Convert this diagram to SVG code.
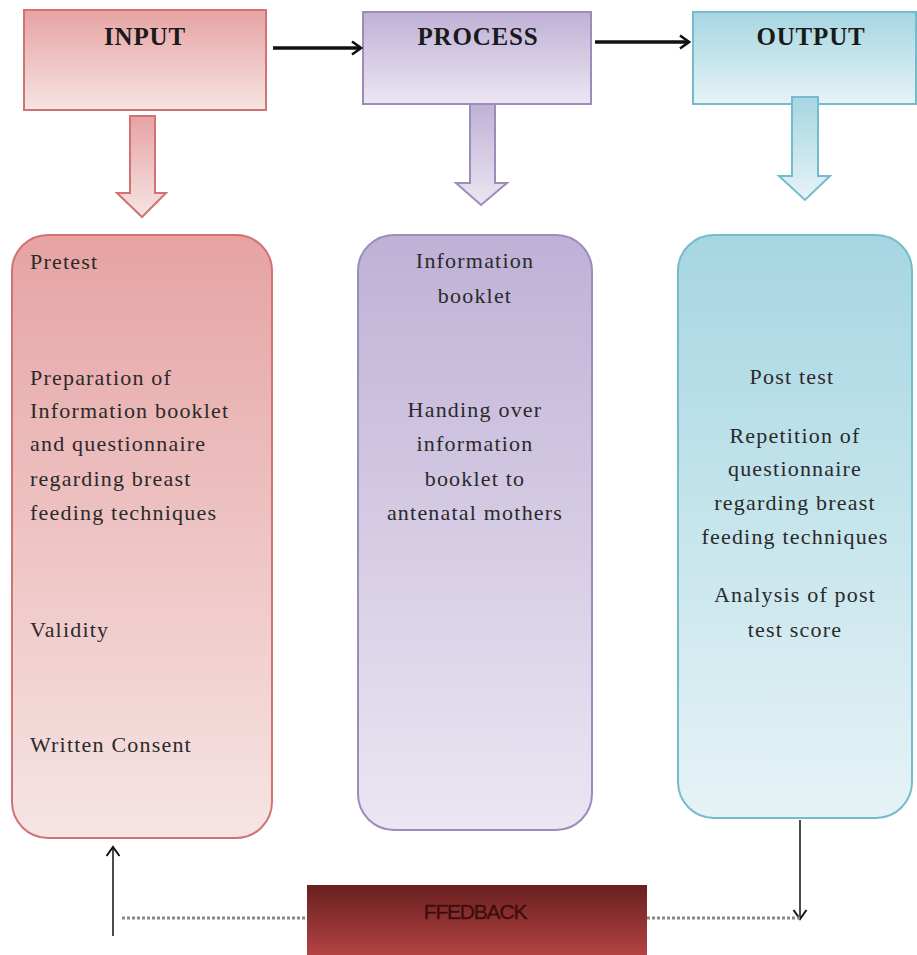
<svg xmlns="http://www.w3.org/2000/svg" width="917" height="955" viewBox="0 0 917 955">
<defs>
<linearGradient id="gRed" x1="0" y1="0" x2="0" y2="1"><stop offset="0" stop-color="#e6a3a3"/><stop offset="1" stop-color="#f6e4e4"/></linearGradient>
<linearGradient id="gPur" x1="0" y1="0" x2="0" y2="1"><stop offset="0" stop-color="#bfb1d6"/><stop offset="1" stop-color="#ebe6f2"/></linearGradient>
<linearGradient id="gBlu" x1="0" y1="0" x2="0" y2="1"><stop offset="0" stop-color="#a6d6e2"/><stop offset="1" stop-color="#e6f3f6"/></linearGradient>
<linearGradient id="gFb" x1="0" y1="0" x2="0" y2="1"><stop offset="0" stop-color="#6a2020"/><stop offset="1" stop-color="#b54444"/></linearGradient>
<marker id="chev" viewBox="0 0 12 16" refX="10" refY="8" markerWidth="12" markerHeight="16" markerUnits="userSpaceOnUse" orient="auto"><path d="M1,1.5 L10,8 L1,14.5" fill="none" stroke="#111" stroke-width="2.6"/></marker>
<marker id="chevS" viewBox="0 0 12 16" refX="10" refY="8" markerWidth="12" markerHeight="16" markerUnits="userSpaceOnUse" orient="auto"><path d="M1,1.5 L10,8 L1,14.5" fill="none" stroke="#111" stroke-width="2"/></marker>
</defs>
<style>
.hdr{font-family:"Liberation Serif",serif;font-weight:bold;font-size:25px;letter-spacing:0.8px;fill:#1a1a1a;text-anchor:middle}
.t{font-family:"Liberation Serif",serif;font-size:22px;letter-spacing:1.2px;fill:#2a2a2a}
.c{text-anchor:middle}
.red{fill:url(#gRed);stroke:#d27272;stroke-width:2}
.pur{fill:url(#gPur);stroke:#9c8cba;stroke-width:2}
.blu{fill:url(#gBlu);stroke:#74bccb;stroke-width:2}
.ln{stroke:#111;fill:none}
.dash{stroke:#888;stroke-width:3;stroke-dasharray:3,2;fill:none}
</style>
<g id="input">
<rect class="red" x="24" y="10" width="242" height="100"/>
<text class="hdr" x="145" y="45">INPUT</text>
</g>
<g id="process">
<rect class="pur" x="363" y="12" width="228" height="92"/>
<text class="hdr" x="478" y="45">PROCESS</text>
</g>
<g id="output">
<rect class="blu" x="693" y="12" width="223" height="92"/>
<text class="hdr" x="811" y="45">OUTPUT</text>
</g>
<g id="input-arrow"><path class="red" d="M130,116 H155 V193 H166 L142,217 L117,193 H130 Z"/></g>
<g id="process-arrow"><path class="pur" d="M470,104 H495 V183 H507 L481,205 L456,183 H470 Z"/></g>
<g id="output-arrow"><path class="blu" d="M792,97 H818 V176 H830 L805,200 L779,176 H792 Z"/></g>
<g id="input-details">
<rect class="red" x="12" y="235" width="260" height="603" rx="36"/>
<text class="t" x="30" y="269">Pretest</text>
<text class="t" x="30" y="385">Preparation of</text>
<text class="t" x="30" y="418">Information booklet</text>
<text class="t" x="30" y="451">and questionnaire</text>
<text class="t" x="30" y="486">regarding breast</text>
<text class="t" x="30" y="520">feeding techniques</text>
<text class="t" x="30" y="637">Validity</text>
<text class="t" x="30" y="752">Written Consent</text>
</g>
<g id="process-details">
<rect class="pur" x="358" y="235" width="234" height="595" rx="36"/>
<text class="t c" x="475" y="268">Information</text>
<text class="t c" x="475" y="303">booklet</text>
<text class="t c" x="475" y="417">Handing over</text>
<text class="t c" x="475" y="451">information</text>
<text class="t c" x="475" y="486">booklet to</text>
<text class="t c" x="475" y="520">antenatal mothers</text>
</g>
<g id="output-details">
<rect class="blu" x="678" y="235" width="234" height="583" rx="36"/>
<text class="t c" x="792" y="384">Post test</text>
<text class="t c" x="795" y="443">Repetition of</text>
<text class="t c" x="795" y="476">questionnaire</text>
<text class="t c" x="795" y="510">regarding breast</text>
<text class="t c" x="795" y="544">feeding techniques</text>
<text class="t c" x="795" y="602">Analysis of post</text>
<text class="t c" x="795" y="637">test score</text>
</g>
<g id="feedback">
<rect x="307" y="885" width="340" height="72" fill="url(#gFb)"/>
<text x="475" y="919" font-family="'Liberation Sans Narrow','Liberation Sans',sans-serif" font-size="21" fill="#3e0e0e" stroke="#3e0e0e" stroke-width="0.4" text-anchor="middle" letter-spacing="-1.2">FFEDBACK</text>
</g>
<g id="connectors">
<line class="ln" x1="273" y1="48" x2="361" y2="48" stroke-width="3.5" marker-end="url(#chev)"/>
<line class="ln" x1="595" y1="42" x2="689" y2="42" stroke-width="3.5" marker-end="url(#chev)"/>
<line class="ln" x1="800" y1="820" x2="800" y2="919" stroke-width="1.5" marker-end="url(#chevS)"/>
<line class="ln" x1="113" y1="936" x2="113" y2="847" stroke-width="1.5" marker-end="url(#chevS)"/>
<line class="dash" x1="122" y1="918" x2="307" y2="918"/>
<line class="dash" x1="647" y1="918" x2="800" y2="918"/>
</g>
</svg>
